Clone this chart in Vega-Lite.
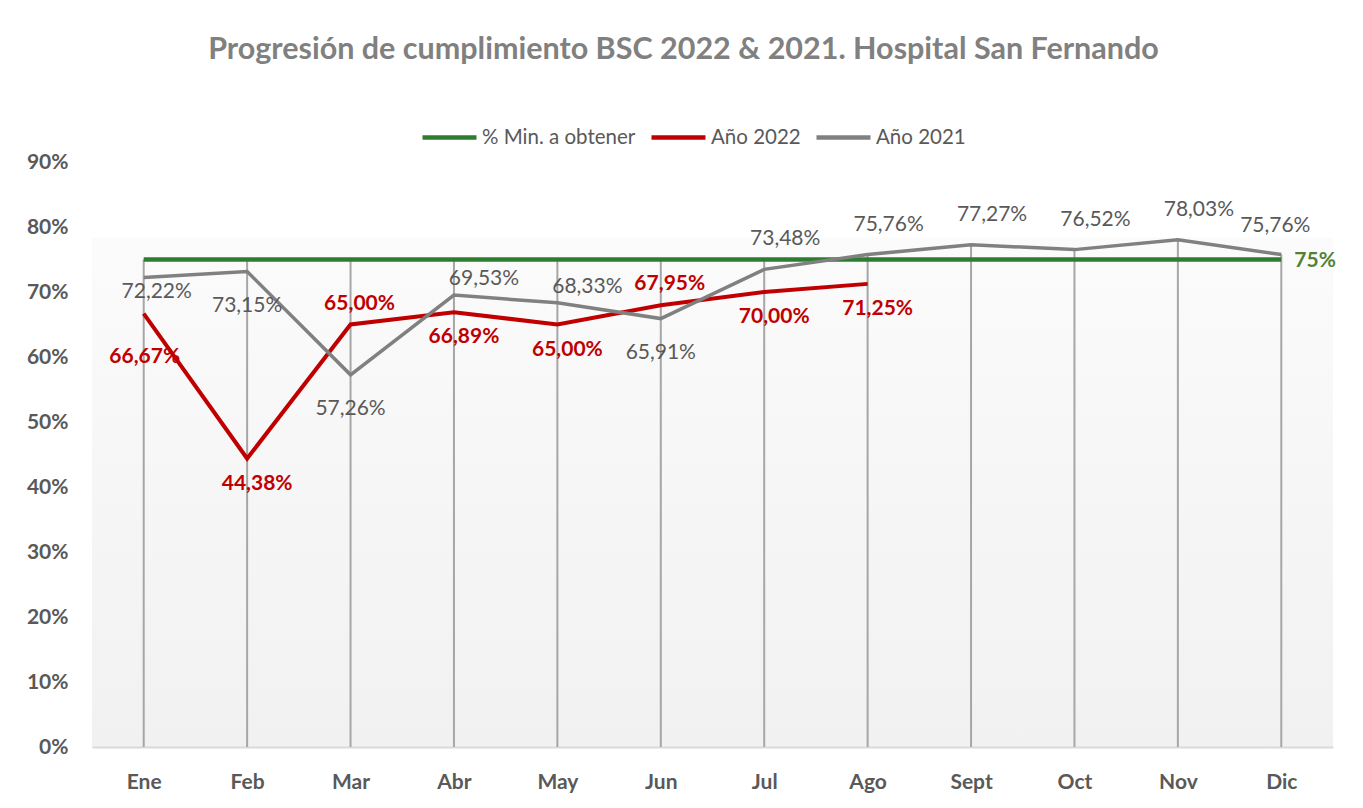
{
  "$schema": "https://vega.github.io/schema/vega-lite/v6.json",
  "width": 1241,
  "height": 585,
  "autosize": {"type": "none"},
  "padding": {"left": 92, "top": 162, "right": 30, "bottom": 61},
  "background": "white",
  "title": {
    "text": "Progresión de cumplimiento BSC 2022 & 2021. Hospital San Fernando",
    "font": "Lato",
    "fontSize": 30.5,
    "fontWeight": "bold",
    "color": "#808080",
    "anchor": "middle",
    "frame": "group",
    "dx": -29,
    "offset": 43
  },
  "config": {
    "locale": {"number": {"decimal": ",", "thousands": ".", "grouping": [3], "currency": ["", " €"]}},
    "font": "Lato",
    "view": {
      "stroke": null,
      "fill": {"gradient": "linear", "x1": 0, "y1": 0, "x2": 0, "y2": 1,
        "stops": [{"offset": 0, "color": "#ffffff"}, {"offset": 0.128, "color": "#ffffff"}, {"offset": 0.13, "color": "#fbfbfb"}, {"offset": 1, "color": "#f1f1f1"}]}
    }
  },
  "data": {
    "values": [
      {"mes": "Ene", "serie": "% Min. a obtener", "valor": 0.75},
      {"mes": "Feb", "serie": "% Min. a obtener", "valor": 0.75},
      {"mes": "Mar", "serie": "% Min. a obtener", "valor": 0.75},
      {"mes": "Abr", "serie": "% Min. a obtener", "valor": 0.75},
      {"mes": "May", "serie": "% Min. a obtener", "valor": 0.75},
      {"mes": "Jun", "serie": "% Min. a obtener", "valor": 0.75},
      {"mes": "Jul", "serie": "% Min. a obtener", "valor": 0.75},
      {"mes": "Ago", "serie": "% Min. a obtener", "valor": 0.75},
      {"mes": "Sept", "serie": "% Min. a obtener", "valor": 0.75},
      {"mes": "Oct", "serie": "% Min. a obtener", "valor": 0.75},
      {"mes": "Nov", "serie": "% Min. a obtener", "valor": 0.75},
      {"mes": "Dic", "serie": "% Min. a obtener", "valor": 0.75},
      {"mes": "Ene", "serie": "Año 2022", "valor": 0.6667},
      {"mes": "Feb", "serie": "Año 2022", "valor": 0.4438},
      {"mes": "Mar", "serie": "Año 2022", "valor": 0.65},
      {"mes": "Abr", "serie": "Año 2022", "valor": 0.6689},
      {"mes": "May", "serie": "Año 2022", "valor": 0.65},
      {"mes": "Jun", "serie": "Año 2022", "valor": 0.6795},
      {"mes": "Jul", "serie": "Año 2022", "valor": 0.70},
      {"mes": "Ago", "serie": "Año 2022", "valor": 0.7125},
      {"mes": "Ene", "serie": "Año 2021", "valor": 0.7222},
      {"mes": "Feb", "serie": "Año 2021", "valor": 0.7315},
      {"mes": "Mar", "serie": "Año 2021", "valor": 0.5726},
      {"mes": "Abr", "serie": "Año 2021", "valor": 0.6953},
      {"mes": "May", "serie": "Año 2021", "valor": 0.6833},
      {"mes": "Jun", "serie": "Año 2021", "valor": 0.6591},
      {"mes": "Jul", "serie": "Año 2021", "valor": 0.7348},
      {"mes": "Ago", "serie": "Año 2021", "valor": 0.7576},
      {"mes": "Sept", "serie": "Año 2021", "valor": 0.7727},
      {"mes": "Oct", "serie": "Año 2021", "valor": 0.7652},
      {"mes": "Nov", "serie": "Año 2021", "valor": 0.7803},
      {"mes": "Dic", "serie": "Año 2021", "valor": 0.7576}
    ]
  },
  "encoding": {
    "x": {
      "field": "mes", "type": "nominal",
      "sort": ["Ene", "Feb", "Mar", "Abr", "May", "Jun", "Jul", "Ago", "Sept", "Oct", "Nov", "Dic"],
      "scale": {"type": "point", "padding": 0.5},
      "axis": {
        "title": null, "labelAngle": 0, "labelFont": "Lato", "labelFontSize": 21, "labelFontWeight": "bold",
        "labelColor": "#595959", "labelPadding": 24, "ticks": false, "grid": false,
        "domainColor": "#d9d9d9", "domainWidth": 2
      }
    },
    "y": {
      "field": "valor", "type": "quantitative",
      "scale": {"domain": [0, 0.9], "nice": false, "zero": true},
      "axis": {
        "title": null, "values": [0, 0.1, 0.2, 0.3, 0.4, 0.5, 0.6, 0.7, 0.8, 0.9], "format": ".0%",
        "labelFont": "Lato", "labelFontSize": 21, "labelFontWeight": "bold", "labelColor": "#595959",
        "labelPadding": 24, "ticks": false, "domain": false, "grid": false
      }
    }
  },
  "layer": [
    {
      "transform": [{"aggregate": [{"op": "max", "field": "valor", "as": "maximo"}], "groupby": ["mes"]}],
      "mark": {"type": "rule", "color": "#a6a6a6", "strokeWidth": 2},
      "encoding": {
        "y": {"field": "maximo", "type": "quantitative"},
        "y2": {"datum": 0}
      }
    },
    {
      "transform": [{"filter": "datum.serie === '% Min. a obtener'"}],
      "mark": {"type": "line", "strokeWidth": 4.5},
      "encoding": {
        "color": {
          "field": "serie", "type": "nominal",
          "scale": {"domain": ["% Min. a obtener", "Año 2022", "Año 2021"], "range": ["#2e7d2e", "#c00000", "#808080"]},
          "legend": {
            "title": null, "orient": "none", "direction": "horizontal", "legendX": 328, "legendY": -54,
            "symbolType": "stroke", "symbolSize": 2916, "symbolStrokeWidth": 4.5,
            "labelFont": "Lato", "labelFontSize": 20.5, "labelColor": "#595959", "labelOffset": 3,
            "columnPadding": 6, "padding": 0
          }
        }
      }
    },
    {
      "transform": [{"filter": "datum.serie === 'Año 2022'"}],
      "mark": {"type": "line", "strokeWidth": 4},
      "encoding": {"color": {"field": "serie", "type": "nominal"}}
    },
    {
      "transform": [{"filter": "datum.serie === 'Año 2021'"}],
      "mark": {"type": "line", "strokeWidth": 3.5},
      "encoding": {"color": {"field": "serie", "type": "nominal"}}
    },
    {
      "transform": [{"filter": "datum.serie === '% Min. a obtener' && datum.mes === 'Dic'"}],
      "mark": {"type": "text", "align": "left", "baseline": "middle", "dx": 13, "dy": 1, "font": "Lato", "fontSize": 21, "fontWeight": "bold", "color": "#548235"},
      "encoding": {"text": {"field": "valor", "type": "quantitative", "format": ".0%"}}
    },
    {
      "transform": [{"filter": "datum.serie === 'Año 2022' && datum.mes === 'Ene'"}],
      "mark": {"type": "text", "align": "center", "baseline": "middle", "dx": 1, "dy": 43, "font": "Lato", "fontSize": 21, "fontWeight": "bold", "color": "#c00000"},
      "encoding": {"text": {"field": "valor", "type": "quantitative", "format": ".2%"}}
    },
    {
      "transform": [{"filter": "datum.serie === 'Año 2022' && indexof(['Feb','Abr','May','Jul','Ago'], datum.mes) >= 0"}],
      "mark": {"type": "text", "align": "center", "baseline": "middle", "dx": 10, "dy": 25, "font": "Lato", "fontSize": 21, "fontWeight": "bold", "color": "#c00000"},
      "encoding": {"text": {"field": "valor", "type": "quantitative", "format": ".2%"}}
    },
    {
      "transform": [{"filter": "datum.serie === 'Año 2022' && indexof(['Mar','Jun'], datum.mes) >= 0"}],
      "mark": {"type": "text", "align": "center", "baseline": "middle", "dx": 9, "dy": -21, "font": "Lato", "fontSize": 21, "fontWeight": "bold", "color": "#c00000"},
      "encoding": {"text": {"field": "valor", "type": "quantitative", "format": ".2%"}}
    },
    {
      "transform": [{"filter": "datum.serie === 'Año 2021' && indexof(['Feb','Mar','Jun'], datum.mes) >= 0"}],
      "mark": {"type": "text", "align": "center", "baseline": "middle", "dx": 0, "dy": 34, "font": "Lato", "fontSize": 21, "color": "#595959"},
      "encoding": {"text": {"field": "valor", "type": "quantitative", "format": ".2%"}}
    },
    {
      "transform": [{"filter": "datum.serie === 'Año 2021' && datum.mes === 'Ene'"}],
      "mark": {"type": "text", "align": "center", "baseline": "middle", "dx": 13, "dy": 14, "font": "Lato", "fontSize": 21, "color": "#595959"},
      "encoding": {"text": {"field": "valor", "type": "quantitative", "format": ".2%"}}
    },
    {
      "transform": [{"filter": "datum.serie === 'Año 2021' && indexof(['Abr','May'], datum.mes) >= 0"}],
      "mark": {"type": "text", "align": "center", "baseline": "middle", "dx": 30, "dy": -16, "font": "Lato", "fontSize": 21, "color": "#595959"},
      "encoding": {"text": {"field": "valor", "type": "quantitative", "format": ".2%"}}
    },
    {
      "transform": [{"filter": "datum.serie === 'Año 2021' && indexof(['Jul','Ago','Sept','Oct','Nov'], datum.mes) >= 0"}],
      "mark": {"type": "text", "align": "center", "baseline": "middle", "dx": 21, "dy": -30, "font": "Lato", "fontSize": 21, "color": "#595959"},
      "encoding": {"text": {"field": "valor", "type": "quantitative", "format": ".2%"}}
    },
    {
      "transform": [{"filter": "datum.serie === 'Año 2021' && datum.mes === 'Dic'"}],
      "mark": {"type": "text", "align": "center", "baseline": "middle", "dx": -6, "dy": -29, "font": "Lato", "fontSize": 21, "color": "#595959"},
      "encoding": {"text": {"field": "valor", "type": "quantitative", "format": ".2%"}}
    }
  ]
}
